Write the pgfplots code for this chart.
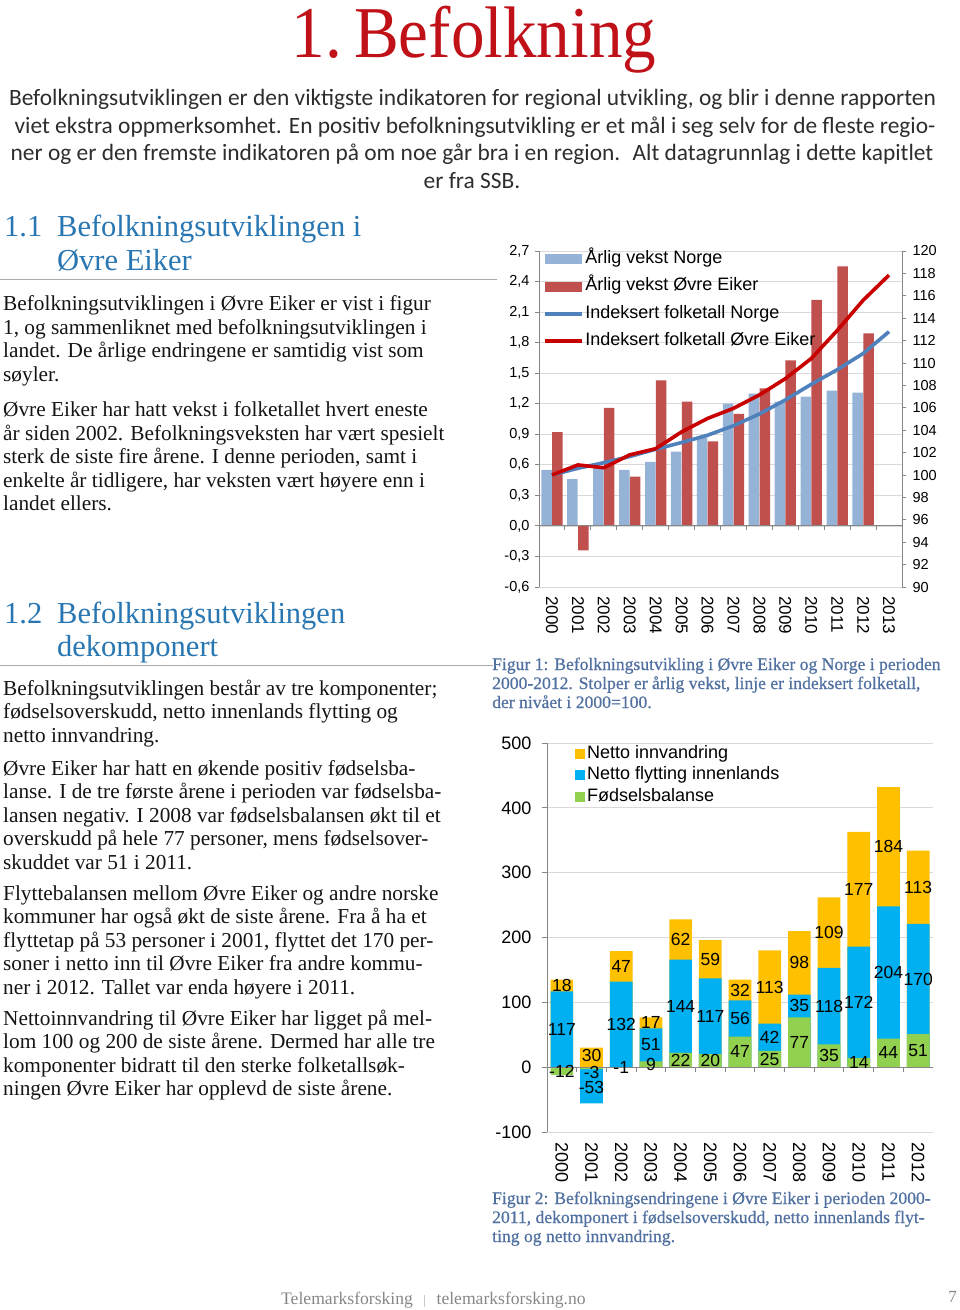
\documentclass[border=0pt]{standalone}
\usepackage{pgfplots}
\usepackage{pgfplotstable}
\usepackage{graphicx}
\pgfplotsset{compat=1.18}
\usepackage{fontspec}
\setmainfont{Liberation Serif}
\newfontfamily\arial{Liberation Sans}
\newfontfamily\carlito{Carlito}
\newfontfamily\capfont[FakeBold=0.6]{Liberation Serif}
\newcommand\fs[2]{\fontsize{#1pt}{#2pt}\selectfont}
\definecolor{titlered}{RGB}{192,16,24}
\definecolor{headblue}{RGB}{40,118,178}
\definecolor{capblue}{RGB}{80,112,160}
\definecolor{introgray}{RGB}{45,45,45}
\definecolor{bodyblack}{RGB}{20,20,20}
\definecolor{footgray}{RGB}{135,135,135}
\definecolor{rulegray}{RGB}{170,170,170}
\definecolor{axgray}{RGB}{134,134,134}
\definecolor{gridgray}{RGB}{217,217,217}
\definecolor{barNO}{RGB}{149,179,215}
\definecolor{barOE}{RGB}{192,80,77}
\definecolor{lineNO}{RGB}{79,129,189}
\definecolor{lineOE}{RGB}{200,0,0}
\definecolor{cInn}{RGB}{255,192,0}
\definecolor{cFly}{RGB}{0,176,240}
\definecolor{cFod}{RGB}{146,208,80}

% Figur 1: annual growth (%)
\pgfplotstableread{
x nor oe
0 0.55 0.92
1 0.46 -0.24
2 0.57 1.16
3 0.55 0.485
4 0.63 1.43
5 0.73 1.22
6 0.87 0.83
7 1.20 1.10
8 1.30 1.35
9 1.22 1.625
10 1.27 2.22
11 1.33 2.55
12 1.31 1.89
}\growthtab
% Figur 1: indexed population (2000=100)
\pgfplotstableread{
x nor oe
0 100 100
1 100.6 100.9
2 101.1 100.65
3 101.65 101.8
4 102.3 102.35
5 102.9 103.85
6 103.55 105.05
7 104.4 105.95
8 105.45 107.15
9 106.7 108.6
10 108.1 110.4
11 109.4 112.9
12 110.85 115.6
13 112.8 117.85
}\idxtab
% Figur 2: components; fod = Fødselsbalanse, fly = Netto flytting innenlands, inn = Netto innvandring
% blue = top of the flytting segment, top = top of the positive stack
\pgfplotstableread{
x fod fly inn blue top
0 -12 117 18 117 135
1 -3 -53 30 -56 30
2 -1 132 47 132 179
3 9 51 17 60 77
4 22 144 62 166 228
5 20 117 59 137 196
6 47 56 32 103 135
7 25 42 113 67 180
8 77 35 98 112 210
9 35 118 109 153 262
10 14 172 177 186 363
11 44 204 184 248 432
12 51 170 113 221 334
}\stacktab
% data labels, centred in each segment
\pgfplotstableread{
x y lab
0 -6 -12
0 58.5 117
0 126 18
1 -8 -3
1 -32 -53
1 17.5 30
2 -0.5 -1
2 66 132
2 155.5 47
3 4.5 9
3 34.5 51
3 68.5 17
4 11 22
4 94 144
4 197 62
5 10 20
5 78.5 117
5 166.5 59
6 23.5 47
6 75 56
6 119 32
7 12.5 25
7 46 42
7 123.5 113
8 38.5 77
8 94.5 35
8 161 98
9 17.5 35
9 94 118
9 207.5 109
10 7 14
10 100 172
10 274.5 177
11 22 44
11 146 204
11 340 184
12 25.5 51
12 136 170
12 277.5 113
}\labtab

\begin{document}
\begin{tikzpicture}
\path[use as bounding box] (0pt,0pt) rectangle (960pt,-1310pt);
\begin{scope}[x=1pt,y=-1pt]
% title
\node[anchor=base,inner sep=0pt,text=titlered] at (474,57) {\fs{73}{80}\scalebox{0.92}[1]{1.\hspace{0.18em}Befolkning}};
% intro
\begin{scope}[every node/.style={anchor=base,inner sep=0pt,text=introgray,font=\carlito\fs{23.4}{28}}]
\node at (472.5,105) {Befolkningsutviklingen er den viktigste indikatoren for regional utvikling, og blir i denne rapporten};
\node at (475,133) {viet ekstra oppmerksomhet. En positiv befolkningsutvikling er et mål i seg selv for de fleste regio-};
\node at (472,160.5) {ner og er den fremste indikatoren på om noe går bra i en region.~ Alt datagrunnlag i dette kapitlet};
\node at (472,188) {er fra SSB.};
\end{scope}
% headings
\begin{scope}[every node/.style={anchor=base west,inner sep=0pt,text=headblue,font=\fs{30.5}{34}}]
\node at (4,236) {1.1};
\node at (57,236) {Befolkningsutviklingen i};
\node at (57,270.5) {Øvre Eiker};
\node at (4,623) {1.2};
\node at (57,623) {Befolkningsutviklingen};
\node at (57,656.5) {dekomponert};
\end{scope}
\draw[rulegray,line width=1pt] (0,279.5) -- (497,279.5);
\draw[rulegray,line width=1pt] (0,665) -- (493,665);
% body text
\begin{scope}[every node/.style={anchor=base west,inner sep=0pt,text=bodyblack,font=\fs{21.3}{24}}]
\node at (3,310) {Befolkningsutviklingen i Øvre Eiker er vist i figur};
\node at (3,334) {1, og sammenliknet med befolkningsutviklingen i};
\node at (3,357.5) {landet. De årlige endringene er samtidig vist som};
\node at (3,381) {søyler.};
\node at (3,416) {Øvre Eiker har hatt vekst i folketallet hvert eneste};
\node at (3,440) {år siden 2002. Befolkningsveksten har vært spesielt};
\node at (3,463.5) {sterk de siste fire årene. I denne perioden, samt i};
\node at (3,487) {enkelte år tidligere, har veksten vært høyere enn i};
\node at (3,510.5) {landet ellers.};
\node at (3,695) {Befolkningsutviklingen består av tre komponenter;};
\node at (3,718.5) {fødselsoverskudd, netto innenlands flytting og};
\node at (3,742) {netto innvandring.};
\node at (3,775) {Øvre Eiker har hatt en økende positiv fødselsba-};
\node at (3,798.5) {lanse. I de tre første årene i perioden var fødselsba-};
\node at (3,822) {lansen negativ. I 2008 var fødselsbalansen økt til et};
\node at (3,845.5) {overskudd på hele 77 personer, mens fødselsover-};
\node at (3,869) {skuddet var 51 i 2011.};
\node at (3,900) {Flyttebalansen mellom Øvre Eiker og andre norske};
\node at (3,923.5) {kommuner har også økt de siste årene. Fra å ha et};
\node at (3,947) {flyttetap på 53 personer i 2001, flyttet det 170 per-};
\node at (3,970.5) {soner i netto inn til Øvre Eiker fra andre kommu-};
\node at (3,994) {ner i 2012. Tallet var enda høyere i 2011.};
\node at (3,1025) {Nettoinnvandring til Øvre Eiker har ligget på mel-};
\node at (3,1048.5) {lom 100 og 200 de siste årene. Dermed har alle tre};
\node at (3,1072) {komponenter bidratt til den sterke folketallsøk-};
\node at (3,1095.5) {ningen Øvre Eiker har opplevd de siste årene.};
\end{scope}
% captions
\begin{scope}[every node/.style={anchor=base west,inner sep=0pt,text=capblue,font=\capfont\fs{17.6}{20}}]
\node at (492,670) {Figur 1: Befolkningsutvikling i Øvre Eiker og Norge i perioden};
\node at (492,689) {2000-2012. Stolper er årlig vekst, linje er indeksert folketall,};
\node at (492,708) {der nivået i 2000=100.};
\node at (492,1204) {Figur 2: Befolkningsendringene i Øvre Eiker i perioden 2000-};
\node at (492,1223) {2011, dekomponert i fødselsoverskudd, netto innenlands flyt-};
\node at (492,1242) {ting og netto innvandring.};
\end{scope}
% footer
\node[anchor=base west,inner sep=0pt,text=footgray,font=\fs{17.6}{20}] at (281,1304) {Telemarksforsking\hspace{0.6em}{\color{footgray!70}\fs{13}{15}|}\hspace{0.6em}telemarksforsking.no};
\node[anchor=base east,inner sep=0pt,text=footgray,font=\fs{17}{20}] at (957,1302) {7};
\end{scope}

% ---------------- Figur 1: bars (left axis)
\begin{axis}[
  at={(539pt,-587pt)}, anchor=south west,
  scale only axis, width=363pt, height=336pt,
  xmin=-0.5, xmax=13.5, ymin=-0.6, ymax=2.7,
  axis y line*=left, axis x line*=bottom,
  x axis line style={draw=none},
  y axis line style={axgray,line width=0.9pt},
  xtick={0,...,13},
  xticklabels={2000,2001,2002,2003,2004,2005,2006,2007,2008,2009,2010,2011,2012,2013},
  xtick style={draw=none},
  xticklabel style={rotate=-90,anchor=west,font=\arial\fs{17}{20},xshift=2pt},
  ytick={-0.6,-0.3,0,0.3,0.6,0.9,1.2,1.5,1.8,2.1,2.4,2.7},
  ytick style={axgray,line width=0.9pt},
  tick align=outside, major tick length=4pt,
  yticklabel style={font=\arial\fs{14.5}{17},xshift=-2pt,
    /pgf/number format/.cd,fixed,fixed zerofill,precision=1,use comma,assume math mode=true},
  ymajorgrids, grid style={gridgray,line width=0.8pt},
]
\addplot[ybar,bar width=10.5pt,bar shift=-5.4pt,fill=barNO,draw=none] table[x=x,y=nor]{\growthtab};
\addplot[ybar,bar width=10.5pt,bar shift=5.4pt,fill=barOE,draw=none] table[x=x,y=oe]{\growthtab};
\draw[axgray,line width=0.9pt] (axis cs:-0.5,0) -- (axis cs:13.5,0);
\pgfplotsinvokeforeach{-0.5,0.5,...,13.5}{\draw[axgray,line width=0.9pt] (axis cs:#1,0) -- ++(0pt,-4.5pt);}
\end{axis}

% ---------------- Figur 1: lines (right axis)
\begin{axis}[
  at={(539pt,-587pt)}, anchor=south west,
  scale only axis, width=363pt, height=336pt,
  xmin=-0.5, xmax=13.5, ymin=90, ymax=120,
  axis y line*=right, axis x line=none,
  y axis line style={axgray,line width=0.9pt},
  ytick={90,92,...,120},
  ytick style={axgray,line width=0.9pt},
  tick align=outside, major tick length=4pt,
  yticklabel style={font=\arial\fs{14.5}{17},xshift=3pt,
    /pgf/number format/assume math mode=true},
  legend cell align=left,
  legend style={at={(0.011,1.017)},anchor=north west,draw=none,fill=none,
    inner sep=0pt,row sep=0pt,font=\arial\fs{18}{21},
    nodes={inner xsep=1.5pt,inner ysep=5.15pt,text height=13pt,text depth=4pt}},
]
\addlegendimage{legend image code/.code={\fill[barNO] (0pt,-4.5pt) rectangle (36pt,4.5pt);}}
\addlegendentry{Årlig vekst Norge}
\addlegendimage{legend image code/.code={\fill[barOE] (0pt,-4.5pt) rectangle (36pt,4.5pt);}}
\addlegendentry{Årlig vekst Øvre Eiker}
\addplot[lineNO,line width=3.6pt,line join=round,
  legend image code/.code={\draw[lineNO,line width=3.6pt] (0pt,0pt) -- (37pt,0pt);}] table[x=x,y=nor]{\idxtab};
\addlegendentry{Indeksert folketall Norge}
\addplot[lineOE,line width=3.6pt,line join=round,
  legend image code/.code={\draw[lineOE,line width=3.6pt] (0pt,0pt) -- (37pt,0pt);}] table[x=x,y=oe]{\idxtab};
\addlegendentry{Indeksert folketall Øvre Eiker}
\end{axis}

% ---------------- Figur 2
\begin{axis}[
  at={(547pt,-1132pt)}, anchor=south west,
  scale only axis, width=386pt, height=389pt,
  xmin=-0.5, xmax=12.5, ymin=-100, ymax=500,
  axis y line*=left, axis x line*=bottom,
  x axis line style={draw=none},
  y axis line style={axgray,line width=0.9pt},
  xtick={0,...,12},
  xticklabels={2000,2001,2002,2003,2004,2005,2006,2007,2008,2009,2010,2011,2012},
  xtick style={draw=none},
  xticklabel style={rotate=-90,anchor=west,font=\arial\fs{18}{20},xshift=2pt},
  ytick={-100,0,100,200,300,400,500},
  ytick style={axgray,line width=0.9pt},
  tick align=outside, major tick length=5pt,
  yticklabel style={font=\arial\fs{18}{20},xshift=-7pt,
    /pgf/number format/assume math mode=true},
  ymajorgrids, grid style={gridgray,line width=0.8pt},
  legend cell align=left,
  legend style={at={(0.0725,1.001)},anchor=north west,draw=none,fill=none,
    inner sep=0pt,row sep=0pt,font=\arial\fs{18}{21},
    nodes={inner xsep=2pt,inner ysep=2.35pt,text height=13pt,text depth=4pt}},
]
\addplot[ybar,bar width=22.7pt,bar shift=0pt,fill=cInn,draw=none,
  legend image code/.code={\fill[cInn] (0pt,-5pt) rectangle (10pt,5pt);}] table[x=x,y=top]{\stacktab};
\addlegendentry{Netto innvandring}
\addplot[ybar,bar width=22.7pt,bar shift=0pt,fill=cFly,draw=none,
  legend image code/.code={\fill[cFly] (0pt,-5pt) rectangle (10pt,5pt);}] table[x=x,y=blue]{\stacktab};
\addlegendentry{Netto flytting innenlands}
\addplot[ybar,bar width=22.7pt,bar shift=0pt,fill=cFod,draw=none,
  legend image code/.code={\fill[cFod] (0pt,-5pt) rectangle (10pt,5pt);}] table[x=x,y=fod]{\stacktab};
\addlegendentry{Fødselsbalanse}
\draw[axgray,line width=0.9pt] (axis cs:-0.5,0) -- (axis cs:12.5,0);
\pgfplotsinvokeforeach{-0.5,0.5,...,12.5}{\draw[axgray,line width=0.9pt] (axis cs:#1,0) -- ++(0pt,-5pt);}
\addplot[forget plot,draw=none,mark=none,
  nodes near coords,point meta=explicit symbolic,
  every node near coord/.append style={anchor=center,inner sep=0pt,text=black,font=\arial\fs{17.5}{20}}]
  table[x=x,y=y,meta=lab]{\labtab};
\end{axis}
\end{tikzpicture}
\end{document}
